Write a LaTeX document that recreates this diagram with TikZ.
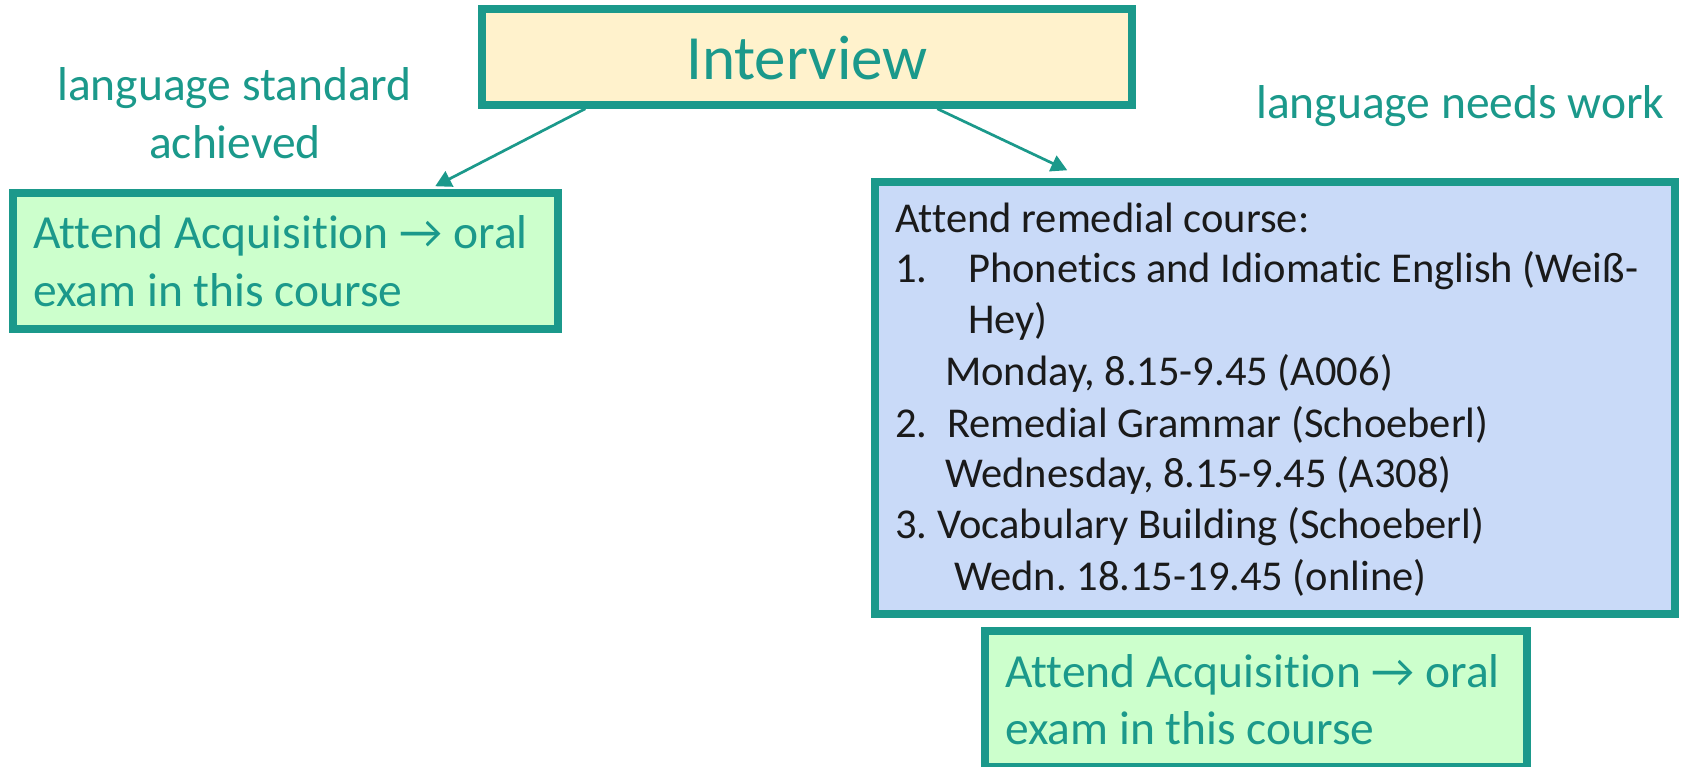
\documentclass[tikz,border=0pt]{standalone}
\usepackage{fontspec}
\setmainfont[RawFeature={-liga;-clig;-dlig}]{Carlito}
\newfontfamily\arrowfont{DejaVu Sans}
\usetikzlibrary{arrows.meta}
\definecolor{tealc}{HTML}{1B998B}
\definecolor{yellowfill}{HTML}{FFF2CC}
\definecolor{greenfill}{HTML}{CCFFCC}
\definecolor{bluefill}{HTML}{C9DAF8}
\definecolor{darktext}{HTML}{1A1A1A}
\newcommand\myarrow{\iffontchar\font"2192 \symbol{"2192}\else{\arrowfont\symbol{"2192}}\fi}
\frenchspacing
\begin{document}
\begin{tikzpicture}[x=1pt,y=-1pt,
  box/.style={draw=tealc, line width=7.5pt, rectangle, inner sep=0pt},
  tlbl/.style={inner sep=0pt, anchor=base west, text=tealc, font=\fontsize{47.5}{57}\selectfont},
  blbl/.style={inner sep=0pt, anchor=base west, text=darktext, font=\fontsize{42.5}{51}\selectfont},
  arr/.style={draw=tealc, line width=2.7pt, -{Triangle[length=16pt,width=17pt]}}]
\useasboundingbox[fill=white] (0,0) rectangle (1681,766);

% boxes
\node[box, fill=yellowfill, minimum width=650pt, minimum height=96pt] (intv) at (807,57) {};
\node[box, fill=greenfill, minimum width=545pt, minimum height=136pt] (lg) at (285.5,261) {};
\node[box, fill=bluefill, minimum width=800pt, minimum height=432pt] (blue) at (1275,398) {};
\node[box, fill=greenfill, minimum width=542pt, minimum height=136pt] (bg) at (1256,699) {};

% connectors
\draw[arr] ([xshift=107pt]intv.south west) -- ([xshift=426pt,yshift=3pt]lg.north west);
\draw[arr] ([xshift=459pt]intv.south west) -- ([xshift=196pt,yshift=8pt]blue.north west);

% texts
\node[inner sep=0pt, anchor=base, text=tealc, font=\fontsize{63}{75}\selectfont] (intvtext) at (807,79) {Interview};
\node[inner sep=0pt, anchor=base, text=tealc, font=\fontsize{47.5}{57}\selectfont] (std1) at (234.5,100) {language standard};
\node[inner sep=0pt, anchor=base, text=tealc, font=\fontsize{47.5}{57}\selectfont] (std2) at (235,158) {achieved};
\node[tlbl] (needs) at (1256,118) {language needs work};

\node[tlbl] (lg1) at (33,248) {Attend Acquisition \myarrow\ oral};
\node[tlbl] (lg2) at (33,306) {exam in this course};

\node[tlbl] (bg1) at (1005,687) {Attend Acquisition \myarrow\ oral};
\node[tlbl] (bg2) at (1005,744) {exam in this course};

\node[blbl] (b1) at (895,232) {Attend remedial course:};
\node[blbl] (b2n) at (895,282) {1.};
\node[blbl] (b2) at (968,282) {Phonetics and Idiomatic English (Weiß-};
\node[blbl] (b3) at (968,333) {Hey)};
\node[blbl] (b4) at (945,385) {Monday, 8.15-9.45 (A006)};
\node[blbl] (b5n) at (895,437) {2.};
\node[blbl] (b5) at (947,437) {Remedial Grammar (Schoeberl)};
\node[blbl] (b6) at (945,487) {Wednesday, 8.15-9.45 (A308)};
\node[blbl] (b7) at (895,538) {3. Vocabulary Building (Schoeberl)};
\node[blbl] (b8) at (954,590) {Wedn. 18.15-19.45 (online)};
\end{tikzpicture}
\end{document}
